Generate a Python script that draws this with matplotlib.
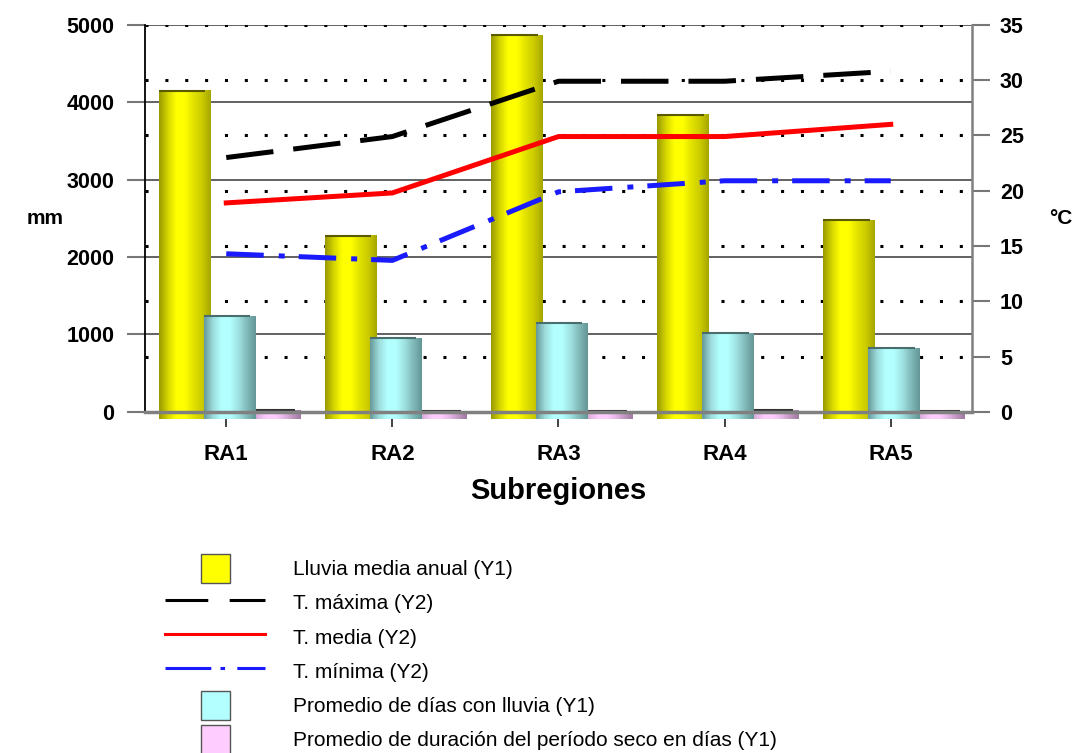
import numpy as np
import matplotlib.pyplot as plt
from matplotlib.colors import LinearSegmentedColormap
from matplotlib.patches import Rectangle
from matplotlib.lines import Line2D
from matplotlib.legend_handler import HandlerPatch

plt.rcParams['font.family'] = ['Liberation Sans', 'DejaVu Sans']

# datos
subregiones = ['RA1', 'RA2', 'RA3', 'RA4', 'RA5']
lluvia = [4150, 2275, 4870, 3840, 2480]          # mm (Y1)
dias_lluvia = [1240, 955, 1150, 1020, 825]       # (Y1)
periodo_seco = [20, 8, 8, 20, 8]                 # (Y1)
t_max = [23.0, 24.9, 29.9, 29.9, 30.8]           # °C (Y2)
t_media = [18.9, 19.8, 24.9, 24.9, 26.0]
t_min = [14.3, 13.7, 19.9, 20.9, 20.9]

x = np.arange(len(subregiones))

fig = plt.figure(figsize=(10.73, 7.53), dpi=100)
ax = fig.add_axes([0.135, 0.453, 0.771, 0.514])
ax2 = ax.twinx()

# lineas de guia
for v in range(0, 5001, 1000):
    ax.axhline(v, color='#555555', lw=1.3, zorder=1)
for t in range(5, 36, 5):
    ax.axhline(t * 5000 / 35, color='black', lw=2.2, ls=(0, (1, 5.5)), zorder=1.2)

w = 0.31
amarillo = ['#9a9a00', '#d6d600', '#ffff00', '#ffff00', '#e2e200', '#cccc00', '#a6a600']
celeste = ['#689a9a', '#9ddcdc', '#b3ffff', '#b3ffff', '#a0e2e2', '#82baba', '#659797']
rosa = ['#a880a8', '#e0b4e0', '#ffccff', '#ffccff', '#e6b8e6', '#c298c2', '#a07aa0']

b1 = ax.bar(x - 0.25, lluvia, w, color='#ffff00', zorder=3)
b3 = ax.bar(x + 0.29, periodo_seco, w, color='#ffccff', zorder=3.1)
b2 = ax.bar(x + 0.02, dias_lluvia, w, color='#b3ffff', zorder=3.2)


def sombrear(bars, colores, borde):
    cmap = LinearSegmentedColormap.from_list('c', colores)
    grad = np.linspace(0, 1, 64).reshape(1, -1)
    for b in bars:
        x0, bw, h = b.get_x(), b.get_width(), b.get_height()
        ax.imshow(grad, cmap=cmap, extent=[x0, x0 + bw, -90, h], aspect='auto',
                  zorder=b.get_zorder(), clip_on=False, interpolation='bilinear')
        ax.plot([x0, x0 + bw * 0.9], [h, h], color=borde, lw=1.5,
                zorder=b.get_zorder() + 0.01, solid_capstyle='butt')


sombrear(b1, amarillo, '#5a5a00')
sombrear(b3, rosa, '#333333')
sombrear(b2, celeste, '#4a6e6e')

# temperaturas
ax2.plot(x, t_max, color='black', lw=3.6, dashes=(9.5, 4), dash_capstyle='butt', zorder=5)
ax2.plot(x, t_media, color='#ff0000', lw=3.6, zorder=5)
ax2.plot(x, t_min, color='#1a1aff', lw=3.6, dashes=(7.5, 3, 1.2, 2.8), dash_capstyle='butt', zorder=5)

ax.set_xlim(-0.49, 4.49)
ax.set_ylim(0, 5000)
ax2.set_ylim(0, 35)

ax.set_yticks(range(0, 5001, 1000))
ax2.set_yticks(range(0, 36, 5))
ax.set_xticks(x, subregiones)

ax.tick_params(axis='y', length=13, width=1.5, color='#777777', labelsize=15.5, pad=9)
ax2.tick_params(axis='y', length=13, width=1.5, color='#777777', labelsize=15.5, pad=7)
ax.tick_params(axis='x', length=11, width=1.3, color='#333333', labelsize=16, pad=12)
for lab in ax.get_yticklabels() + ax2.get_yticklabels() + ax.get_xticklabels():
    lab.set_fontweight('bold')

for s in ['top', 'right']:
    ax.spines[s].set_visible(False)
ax.spines['left'].set_color('black')
ax.spines['left'].set_linewidth(1.3)
ax.spines['bottom'].set_color('#808080')
ax.spines['bottom'].set_linewidth(2.5)
ax.spines['bottom'].set_zorder(4)
for s in ['top', 'left', 'bottom']:
    ax2.spines[s].set_visible(False)
ax2.spines['right'].set_color('#808080')
ax2.spines['right'].set_linewidth(1.8)

ax.set_ylabel('mm', rotation=0, fontsize=15, fontweight='bold', ha='center', va='center')
ax.yaxis.set_label_coords(-0.12, 0.5)
ax2.set_ylabel('°C', rotation=0, fontsize=15, fontweight='bold', ha='center', va='center')
ax2.yaxis.set_label_coords(1.107, 0.5)
ax.set_xlabel('Subregiones', fontsize=21, fontweight='bold', labelpad=9)


# leyenda
def cuadro(legend, orig_handle, xdescent, ydescent, width, height, fontsize):
    s = 21
    return Rectangle((-xdescent + (width - s) / 2, -ydescent + (height - s) / 2), s, s)


handles = [
    Rectangle((0, 0), 1, 1, facecolor='#ffff00', edgecolor='#555555', lw=1),
    Line2D([], [], color='black', lw=2.2, dashes=(14, 7)),
    Line2D([], [], color='#ff0000', lw=2.2),
    Line2D([], [], color='#1a1aff', lw=2.2, dashes=(15, 3, 1.5, 4)),
    Rectangle((0, 0), 1, 1, facecolor='#b3ffff', edgecolor='#555555', lw=1),
    Rectangle((0, 0), 1, 1, facecolor='#ffccff', edgecolor='#555555', lw=1),
]
labels = ['Lluvia media anual (Y1)', 'T. máxima (Y2)', 'T. media (Y2)', 'T. mínima (Y2)',
          'Promedio de días con lluvia (Y1)',
          'Promedio de duración del período seco en días (Y1)']
fig.legend(handles, labels, loc='upper left', bbox_to_anchor=(0.154, 0.262),
           frameon=False, fontsize=15, borderpad=0, borderaxespad=0,
           handlelength=4.8, handleheight=1.5, labelspacing=0.42, handletextpad=1.35,
           handler_map={Rectangle: HandlerPatch(patch_func=cuadro)})

plt.savefig('out.png', dpi=100)
